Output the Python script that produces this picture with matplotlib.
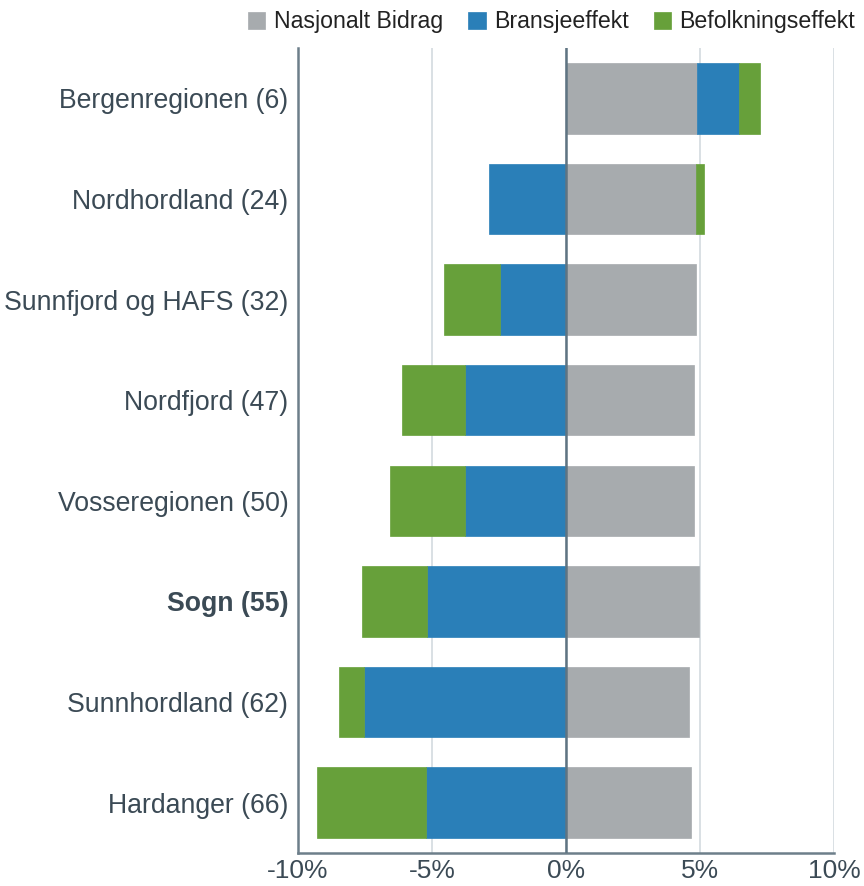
import matplotlib
matplotlib.use("Agg")
import matplotlib.pyplot as plt
import numpy as np

plt.rcParams['font.family'] = ['Liberation Sans', 'DejaVu Sans']

regions = ["Bergenregionen (6)", "Nordhordland (24)", "Sunnfjord og HAFS (32)",
           "Nordfjord (47)", "Vosseregionen (50)", "Sogn (55)",
           "Sunnhordland (62)", "Hardanger (66)"]
nasjonalt = [4.89, 4.85, 4.85, 4.78, 4.78, 4.96, 4.59, 4.66]
bransje = [1.57, -2.87, -2.46, -3.77, -3.77, -5.19, -7.54, -5.22]
befolkning = [0.78, 0.30, -2.09, -2.35, -2.80, -2.43, -0.93, -4.07]
series_names = ["Nasjonalt Bidrag", "Bransjeeffekt", "Befolkningseffekt"]
colors = ["#a7abae", "#2a7fb8", "#67a03a"]
xticks = [-10, -5, 0, 5, 10]
xticklabels = ["-10%", "-5%", "0%", "5%", "10%"]

fig = plt.figure(figsize=(8.64, 8.86), dpi=100)
ax = fig.add_axes([298/864, 1-853/886, (834-298)/864, (853-48)/886])

y = np.arange(len(regions))
pos = np.zeros(len(regions))
neg = np.zeros(len(regions))
for vals, name, c in zip([nasjonalt, bransje, befolkning], series_names, colors):
    vals = np.array(vals)
    left = np.where(vals >= 0, pos, neg)
    ax.barh(y, vals, left=left, height=0.7, color=c, label=name,
            edgecolor=c, linewidth=0.5, zorder=3)
    pos = pos + np.where(vals >= 0, vals, 0)
    neg = neg + np.where(vals < 0, vals, 0)

ax.set_xlim(-10, 10)
ax.set_ylim(len(regions) - 0.5, -0.5)
ax.set_xticks(xticks)
ax.set_xticklabels(xticklabels)
ax.set_yticks(y)
ax.set_yticklabels(regions)
for lbl in ax.get_yticklabels():
    if lbl.get_text().startswith("Sogn"):
        lbl.set_fontweight("bold")

ax.tick_params(axis='y', length=0, pad=7, labelsize=19.2, labelcolor="#3b4a55")
ax.tick_params(axis='x', length=0, pad=4, labelsize=19, labelcolor="#3b4a55")

ax.grid(axis='x', color="#d3dadf", linewidth=1.2, zorder=0)
ax.axvline(0, color="#5f7482", linewidth=1.8, zorder=4)
for s in ["top", "right"]:
    ax.spines[s].set_visible(False)
for s in ["left", "bottom"]:
    ax.spines[s].set_color("#6d7f8a")
    ax.spines[s].set_linewidth(1.8)

leg = fig.legend(loc="upper right", bbox_to_anchor=(1.014, 1.012), ncol=3, frameon=False,
                 fontsize=16.7, handlelength=0.75, handleheight=0.75, handletextpad=0.35,
                 columnspacing=1.1)
for t in leg.get_texts():
    t.set_color("#222222")

fig.savefig("out.png", dpi=100)
